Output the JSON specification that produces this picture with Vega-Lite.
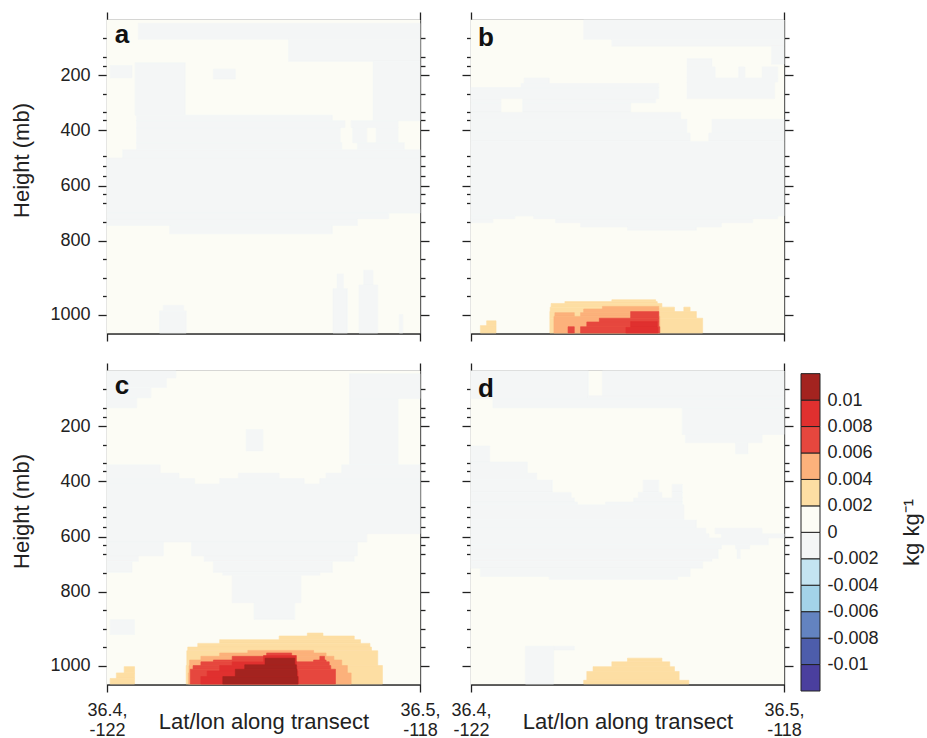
{
"$schema":"https://vega.github.io/schema/vega-lite/v6.json",
"background":"white",
"padding":{"left":10,"top":11,"right":5,"bottom":0},
"config":{"view":{"stroke":null},"font":"Liberation Sans","axis":{"domainColor":"#222","tickColor":"#222","labelColor":"#222","titleColor":"#222","titleFontWeight":"normal","grid":false,"domainWidth":1.3,"tickWidth":1.3,"labelFont":"Liberation Sans","titleFont":"Liberation Sans"}},
"datasets":{
"bar":[{"lo":-0.012,"hi":-0.01,"q":-0.011},{"lo":-0.01,"hi":-0.008,"q":-0.009},{"lo":-0.008,"hi":-0.006,"q":-0.007},{"lo":-0.006,"hi":-0.004,"q":-0.005},{"lo":-0.004,"hi":-0.002,"q":-0.003},{"lo":-0.002,"hi":0,"q":-0.001},{"lo":0,"hi":0.002,"q":0.001},{"lo":0.002,"hi":0.004,"q":0.003},{"lo":0.004,"hi":0.006,"q":0.005},{"lo":0.006,"hi":0.008,"q":0.007},{"lo":0.008,"hi":0.01,"q":0.009},{"lo":0.01,"hi":0.012,"q":0.011}],
"field":[
{"panel":"a","p0":0,"p1":1050,"f0":0,"f1":1,"q":0.001},
{"panel":"a","p0":12,"p1":70,"f0":0.1,"f1":1,"q":-0.001},
{"panel":"a","p0":70,"p1":150,"f0":0.58,"f1":1,"q":-0.001},
{"panel":"a","p0":150,"p1":365,"f0":0.85,"f1":1,"q":-0.001},
{"panel":"a","p0":155,"p1":345,"f0":0.09,"f1":0.25,"q":-0.001},
{"panel":"a","p0":165,"p1":210,"f0":0.01,"f1":0.08,"q":-0.001},
{"panel":"a","p0":178,"p1":214,"f0":0.34,"f1":0.41,"q":-0.001},
{"panel":"a","p0":345,"p1":365,"f0":0.094,"f1":0.72,"q":-0.001},
{"panel":"a","p0":365,"p1":390,"f0":0.094,"f1":0.76,"q":-0.001},
{"panel":"a","p0":365,"p1":390,"f0":0.78,"f1":0.93,"q":-0.001},
{"panel":"a","p0":390,"p1":445,"f0":0.094,"f1":0.745,"q":-0.001},
{"panel":"a","p0":390,"p1":445,"f0":0.785,"f1":0.83,"q":-0.001},
{"panel":"a","p0":390,"p1":445,"f0":0.86,"f1":0.93,"q":-0.001},
{"panel":"a","p0":445,"p1":470,"f0":0.094,"f1":0.75,"q":-0.001},
{"panel":"a","p0":445,"p1":470,"f0":0.8,"f1":0.95,"q":-0.001},
{"panel":"a","p0":470,"p1":500,"f0":0.05,"f1":1,"q":-0.001},
{"panel":"a","p0":500,"p1":700,"f0":0,"f1":1,"q":-0.001},
{"panel":"a","p0":700,"p1":720,"f0":0,"f1":0.9,"q":-0.001},
{"panel":"a","p0":720,"p1":745,"f0":0,"f1":0.8,"q":-0.001},
{"panel":"a","p0":745,"p1":775,"f0":0.2,"f1":0.72,"q":-0.001},
{"panel":"a","p0":975,"p1":990,"f0":0.18,"f1":0.245,"q":-0.001},
{"panel":"a","p0":990,"p1":1050,"f0":0.168,"f1":0.253,"q":-0.001},
{"panel":"a","p0":890,"p1":930,"f0":0.735,"f1":0.755,"q":-0.001},
{"panel":"a","p0":930,"p1":1050,"f0":0.722,"f1":0.768,"q":-0.001},
{"panel":"a","p0":880,"p1":920,"f0":0.82,"f1":0.85,"q":-0.001},
{"panel":"a","p0":920,"p1":1050,"f0":0.805,"f1":0.865,"q":-0.001},
{"panel":"a","p0":1000,"p1":1050,"f0":0.934,"f1":0.945,"q":-0.001},
{"panel":"b","p0":0,"p1":1050,"f0":0,"f1":1,"q":0.001},
{"panel":"b","p0":0,"p1":70,"f0":0.36,"f1":1,"q":-0.001},
{"panel":"b","p0":70,"p1":95,"f0":0.45,"f1":1,"q":-0.001},
{"panel":"b","p0":95,"p1":160,"f0":0.96,"f1":1,"q":-0.001},
{"panel":"b","p0":140,"p1":170,"f0":0.69,"f1":0.77,"q":-0.001},
{"panel":"b","p0":170,"p1":210,"f0":0.69,"f1":0.78,"q":-0.001},
{"panel":"b","p0":170,"p1":210,"f0":0.855,"f1":0.875,"q":-0.001},
{"panel":"b","p0":170,"p1":210,"f0":0.93,"f1":0.98,"q":-0.001},
{"panel":"b","p0":210,"p1":225,"f0":0.69,"f1":0.98,"q":-0.001},
{"panel":"b","p0":225,"p1":285,"f0":0.69,"f1":0.97,"q":-0.001},
{"panel":"b","p0":210,"p1":230,"f0":0.17,"f1":0.25,"q":-0.001},
{"panel":"b","p0":230,"p1":245,"f0":0.16,"f1":0.6,"q":-0.001},
{"panel":"b","p0":245,"p1":285,"f0":0,"f1":0.6,"q":-0.001},
{"panel":"b","p0":285,"p1":300,"f0":0,"f1":0.096,"q":-0.001},
{"panel":"b","p0":285,"p1":300,"f0":0.165,"f1":0.59,"q":-0.001},
{"panel":"b","p0":300,"p1":335,"f0":0,"f1":0.096,"q":-0.001},
{"panel":"b","p0":300,"p1":335,"f0":0.165,"f1":0.51,"q":-0.001},
{"panel":"b","p0":335,"p1":360,"f0":0,"f1":0.67,"q":-0.001},
{"panel":"b","p0":360,"p1":410,"f0":0,"f1":0.69,"q":-0.001},
{"panel":"b","p0":360,"p1":410,"f0":0.77,"f1":1,"q":-0.001},
{"panel":"b","p0":410,"p1":440,"f0":0,"f1":0.7,"q":-0.001},
{"panel":"b","p0":410,"p1":440,"f0":0.76,"f1":1,"q":-0.001},
{"panel":"b","p0":440,"p1":710,"f0":0,"f1":1,"q":-0.001},
{"panel":"b","p0":710,"p1":720,"f0":0,"f1":0.14,"q":-0.001},
{"panel":"b","p0":710,"p1":720,"f0":0.2,"f1":0.98,"q":-0.001},
{"panel":"b","p0":720,"p1":735,"f0":0,"f1":0.07,"q":-0.001},
{"panel":"b","p0":720,"p1":735,"f0":0.27,"f1":0.9,"q":-0.001},
{"panel":"b","p0":735,"p1":750,"f0":0.35,"f1":0.8,"q":-0.001},
{"panel":"b","p0":750,"p1":762,"f0":0.5,"f1":0.72,"q":-0.001},
{"panel":"b","p0":960,"p1":965,"f0":0.45,"f1":0.59,"q":0.003},
{"panel":"b","p0":965,"p1":970,"f0":0.3,"f1":0.595,"q":0.003},
{"panel":"b","p0":970,"p1":980,"f0":0.256,"f1":0.61,"q":0.003},
{"panel":"b","p0":980,"p1":992,"f0":0.253,"f1":0.65,"q":0.003},
{"panel":"b","p0":980,"p1":992,"f0":0.68,"f1":0.7,"q":0.003},
{"panel":"b","p0":992,"p1":1010,"f0":0.252,"f1":0.72,"q":0.003},
{"panel":"b","p0":1010,"p1":1050,"f0":0.252,"f1":0.74,"q":0.003},
{"panel":"b","p0":1017,"p1":1030,"f0":0.05,"f1":0.08,"q":0.003},
{"panel":"b","p0":1030,"p1":1050,"f0":0.03,"f1":0.08,"q":0.003},
{"panel":"b","p0":978,"p1":985,"f0":0.42,"f1":0.6,"q":0.005},
{"panel":"b","p0":985,"p1":995,"f0":0.36,"f1":0.6,"q":0.005},
{"panel":"b","p0":995,"p1":1005,"f0":0.268,"f1":0.33,"q":0.005},
{"panel":"b","p0":995,"p1":1005,"f0":0.35,"f1":0.6,"q":0.005},
{"panel":"b","p0":1005,"p1":1050,"f0":0.265,"f1":0.603,"q":0.005},
{"panel":"b","p0":992,"p1":1010,"f0":0.51,"f1":0.6,"q":0.007},
{"panel":"b","p0":1010,"p1":1020,"f0":0.41,"f1":0.6,"q":0.007},
{"panel":"b","p0":1020,"p1":1033,"f0":0.37,"f1":0.6,"q":0.007},
{"panel":"b","p0":1033,"p1":1050,"f0":0.31,"f1":0.33,"q":0.007},
{"panel":"b","p0":1033,"p1":1050,"f0":0.35,"f1":0.603,"q":0.007},
{"panel":"b","p0":1019,"p1":1035,"f0":0.51,"f1":0.595,"q":0.009},
{"panel":"b","p0":1035,"p1":1050,"f0":0.495,"f1":0.597,"q":0.009},
{"panel":"c","p0":0,"p1":1050,"f0":0,"f1":1,"q":0.001},
{"panel":"c","p0":0,"p1":25,"f0":0,"f1":0.22,"q":-0.001},
{"panel":"c","p0":25,"p1":60,"f0":0,"f1":0.19,"q":-0.001},
{"panel":"c","p0":60,"p1":97,"f0":0,"f1":0.14,"q":-0.001},
{"panel":"c","p0":97,"p1":133,"f0":0,"f1":0.095,"q":-0.001},
{"panel":"c","p0":10,"p1":100,"f0":0.775,"f1":1,"q":-0.001},
{"panel":"c","p0":100,"p1":340,"f0":0.775,"f1":0.93,"q":-0.001},
{"panel":"c","p0":212,"p1":290,"f0":0.445,"f1":0.498,"q":-0.001},
{"panel":"c","p0":340,"p1":370,"f0":0,"f1":0.17,"q":-0.001},
{"panel":"c","p0":340,"p1":370,"f0":0.75,"f1":1,"q":-0.001},
{"panel":"c","p0":370,"p1":390,"f0":0,"f1":0.23,"q":-0.001},
{"panel":"c","p0":370,"p1":390,"f0":0.42,"f1":0.55,"q":-0.001},
{"panel":"c","p0":370,"p1":390,"f0":0.7,"f1":1,"q":-0.001},
{"panel":"c","p0":390,"p1":410,"f0":0,"f1":0.28,"q":-0.001},
{"panel":"c","p0":390,"p1":410,"f0":0.36,"f1":0.63,"q":-0.001},
{"panel":"c","p0":390,"p1":410,"f0":0.68,"f1":1,"q":-0.001},
{"panel":"c","p0":410,"p1":590,"f0":0,"f1":1,"q":-0.001},
{"panel":"c","p0":590,"p1":620,"f0":0,"f1":0.83,"q":-0.001},
{"panel":"c","p0":620,"p1":670,"f0":0,"f1":0.18,"q":-0.001},
{"panel":"c","p0":620,"p1":670,"f0":0.27,"f1":0.8,"q":-0.001},
{"panel":"c","p0":670,"p1":690,"f0":0,"f1":0.1,"q":-0.001},
{"panel":"c","p0":670,"p1":690,"f0":0.31,"f1":0.79,"q":-0.001},
{"panel":"c","p0":690,"p1":730,"f0":0,"f1":0.08,"q":-0.001},
{"panel":"c","p0":690,"p1":730,"f0":0.34,"f1":0.72,"q":-0.001},
{"panel":"c","p0":730,"p1":740,"f0":0.37,"f1":0.68,"q":-0.001},
{"panel":"c","p0":740,"p1":830,"f0":0.4,"f1":0.62,"q":-0.001},
{"panel":"c","p0":830,"p1":875,"f0":0.47,"f1":0.6,"q":-0.001},
{"panel":"c","p0":876,"p1":916,"f0":0.01,"f1":0.088,"q":-0.001},
{"panel":"c","p0":912,"p1":920,"f0":0.64,"f1":0.69,"q":0.003},
{"panel":"c","p0":920,"p1":930,"f0":0.55,"f1":0.79,"q":0.003},
{"panel":"c","p0":930,"p1":940,"f0":0.36,"f1":0.81,"q":0.003},
{"panel":"c","p0":940,"p1":950,"f0":0.29,"f1":0.84,"q":0.003},
{"panel":"c","p0":950,"p1":960,"f0":0.258,"f1":0.845,"q":0.003},
{"panel":"c","p0":960,"p1":1000,"f0":0.255,"f1":0.865,"q":0.003},
{"panel":"c","p0":1000,"p1":1050,"f0":0.253,"f1":0.88,"q":0.003},
{"panel":"c","p0":1003,"p1":1020,"f0":0.055,"f1":0.088,"q":0.003},
{"panel":"c","p0":1020,"p1":1035,"f0":0.03,"f1":0.088,"q":0.003},
{"panel":"c","p0":1035,"p1":1050,"f0":0.01,"f1":0.088,"q":0.003},
{"panel":"c","p0":959,"p1":966,"f0":0.45,"f1":0.66,"q":0.005},
{"panel":"c","p0":966,"p1":975,"f0":0.36,"f1":0.7,"q":0.005},
{"panel":"c","p0":975,"p1":985,"f0":0.3,"f1":0.725,"q":0.005},
{"panel":"c","p0":985,"p1":1000,"f0":0.264,"f1":0.75,"q":0.005},
{"panel":"c","p0":1000,"p1":1020,"f0":0.262,"f1":0.768,"q":0.005},
{"panel":"c","p0":1020,"p1":1050,"f0":0.26,"f1":0.78,"q":0.005},
{"panel":"c","p0":966,"p1":975,"f0":0.51,"f1":0.59,"q":0.007},
{"panel":"c","p0":975,"p1":985,"f0":0.4,"f1":0.6,"q":0.007},
{"panel":"c","p0":975,"p1":985,"f0":0.68,"f1":0.695,"q":0.007},
{"panel":"c","p0":985,"p1":990,"f0":0.34,"f1":0.6,"q":0.007},
{"panel":"c","p0":985,"p1":990,"f0":0.66,"f1":0.7,"q":0.007},
{"panel":"c","p0":990,"p1":1000,"f0":0.3,"f1":0.71,"q":0.007},
{"panel":"c","p0":1000,"p1":1010,"f0":0.275,"f1":0.715,"q":0.007},
{"panel":"c","p0":1010,"p1":1050,"f0":0.266,"f1":0.73,"q":0.007},
{"panel":"c","p0":973,"p1":990,"f0":0.5,"f1":0.605,"q":0.009},
{"panel":"c","p0":990,"p1":1000,"f0":0.4,"f1":0.605,"q":0.009},
{"panel":"c","p0":1000,"p1":1015,"f0":0.36,"f1":0.607,"q":0.009},
{"panel":"c","p0":1015,"p1":1030,"f0":0.32,"f1":0.61,"q":0.009},
{"panel":"c","p0":1030,"p1":1050,"f0":0.3,"f1":0.612,"q":0.009},
{"panel":"c","p0":980,"p1":998,"f0":0.505,"f1":0.6,"q":0.011},
{"panel":"c","p0":998,"p1":1010,"f0":0.44,"f1":0.605,"q":0.011},
{"panel":"c","p0":1010,"p1":1030,"f0":0.41,"f1":0.607,"q":0.011},
{"panel":"c","p0":1030,"p1":1050,"f0":0.37,"f1":0.61,"q":0.011},
{"panel":"d","p0":0,"p1":1050,"f0":0,"f1":1,"q":0.001},
{"panel":"d","p0":0,"p1":100,"f0":0,"f1":0.375,"q":-0.001},
{"panel":"d","p0":0,"p1":90,"f0":0.42,"f1":1,"q":-0.001},
{"panel":"d","p0":90,"p1":100,"f0":0.375,"f1":1,"q":-0.001},
{"panel":"d","p0":100,"p1":133,"f0":0.07,"f1":1,"q":-0.001},
{"panel":"d","p0":133,"p1":230,"f0":0.675,"f1":1,"q":-0.001},
{"panel":"d","p0":230,"p1":260,"f0":0.685,"f1":0.93,"q":-0.001},
{"panel":"d","p0":260,"p1":300,"f0":0.845,"f1":0.885,"q":-0.001},
{"panel":"d","p0":272,"p1":330,"f0":0,"f1":0.06,"q":-0.001},
{"panel":"d","p0":330,"p1":370,"f0":0,"f1":0.18,"q":-0.001},
{"panel":"d","p0":370,"p1":395,"f0":0,"f1":0.21,"q":-0.001},
{"panel":"d","p0":395,"p1":440,"f0":0,"f1":0.26,"q":-0.001},
{"panel":"d","p0":395,"p1":440,"f0":0.55,"f1":0.6,"q":-0.001},
{"panel":"d","p0":411,"p1":440,"f0":0.643,"f1":0.675,"q":-0.001},
{"panel":"d","p0":440,"p1":460,"f0":0,"f1":0.32,"q":-0.001},
{"panel":"d","p0":440,"p1":460,"f0":0.535,"f1":0.61,"q":-0.001},
{"panel":"d","p0":440,"p1":460,"f0":0.643,"f1":0.675,"q":-0.001},
{"panel":"d","p0":460,"p1":475,"f0":0,"f1":0.33,"q":-0.001},
{"panel":"d","p0":460,"p1":475,"f0":0.52,"f1":0.675,"q":-0.001},
{"panel":"d","p0":475,"p1":485,"f0":0,"f1":0.34,"q":-0.001},
{"panel":"d","p0":475,"p1":485,"f0":0.43,"f1":0.675,"q":-0.001},
{"panel":"d","p0":485,"p1":540,"f0":0,"f1":0.68,"q":-0.001},
{"panel":"d","p0":540,"p1":570,"f0":0,"f1":0.72,"q":-0.001},
{"panel":"d","p0":570,"p1":590,"f0":0,"f1":0.75,"q":-0.001},
{"panel":"d","p0":570,"p1":590,"f0":0.78,"f1":0.93,"q":-0.001},
{"panel":"d","p0":590,"p1":605,"f0":0,"f1":0.76,"q":-0.001},
{"panel":"d","p0":590,"p1":605,"f0":0.8,"f1":1,"q":-0.001},
{"panel":"d","p0":605,"p1":630,"f0":0,"f1":0.95,"q":-0.001},
{"panel":"d","p0":630,"p1":645,"f0":0,"f1":0.8,"q":-0.001},
{"panel":"d","p0":630,"p1":645,"f0":0.845,"f1":0.89,"q":-0.001},
{"panel":"d","p0":645,"p1":680,"f0":0,"f1":0.79,"q":-0.001},
{"panel":"d","p0":645,"p1":680,"f0":0.85,"f1":0.86,"q":-0.001},
{"panel":"d","p0":680,"p1":690,"f0":0,"f1":0.77,"q":-0.001},
{"panel":"d","p0":690,"p1":715,"f0":0,"f1":0.74,"q":-0.001},
{"panel":"d","p0":715,"p1":745,"f0":0.03,"f1":0.7,"q":-0.001},
{"panel":"d","p0":745,"p1":756,"f0":0.25,"f1":0.66,"q":-0.001},
{"panel":"d","p0":948,"p1":1050,"f0":0.174,"f1":0.264,"q":-0.001},
{"panel":"d","p0":948,"p1":958,"f0":0.264,"f1":0.33,"q":-0.001},
{"panel":"d","p0":980,"p1":990,"f0":0.5,"f1":0.61,"q":0.003},
{"panel":"d","p0":990,"p1":1003,"f0":0.45,"f1":0.635,"q":0.003},
{"panel":"d","p0":1003,"p1":1016,"f0":0.39,"f1":0.65,"q":0.003},
{"panel":"d","p0":1016,"p1":1040,"f0":0.37,"f1":0.665,"q":0.003},
{"panel":"d","p0":1040,"p1":1050,"f0":0.36,"f1":0.696,"q":0.003}
]},
"spacing":20,
"vconcat":[
{"hconcat":[
{"width":313,"height":313,"layer":[
{"data":{"name":"field"},"transform":[{"filter":"datum.panel === 'a'"}],"mark":{"type":"rect","strokeWidth":0.6},"encoding":{
"x":{"field":"f0","type":"quantitative","scale":{"domain":[0,1],"nice":false,"zero":false},"axis":{"orient":"bottom","values":[0,1],"tickSize":8,"labels":false,"title":null,"domainWidth":2.4}},
"x2":{"field":"f1"},
"y":{"field":"p0","type":"quantitative","scale":{"domain":[0,800,1050],"range":[0,220.7,313],"nice":false,"zero":false},"axis":{"orient":"left","values":[65,134,168,200,267,334,362,400,494,531,567,600,631,664,734,800,850,900,950,1000],"tickSize":{"condition":{"test":"indexof([200,400,600,800,1000], datum.value) >= 0","value":9},"value":4.5},"labelExpr":"indexof([200,400,600,800,1000], datum.value) >= 0 ? '' + datum.value : ''","labelFontSize":18,"labelPadding":8,"labelOverlap":false,"title":"Height (mb)","titleFontSize":22,"titleY":140,"titlePadding":16}},
"y2":{"field":"p1"},
"fill":{"field":"q","type":"quantitative","scale":{"type":"threshold","domain":[-0.01,-0.008,-0.006,-0.004,-0.002,0,0.002,0.004,0.006,0.008,0.01],"range":["#4a3f9e","#4d5dab","#6383c0","#a3d3e8","#c4e4f1","#f4f6f6","#fcfcf5","#fddea3","#fcb17b","#e6473e","#e0302f","#a3231f"]},"legend":null},
"stroke":{"field":"q","type":"quantitative","scale":{"type":"threshold","domain":[-0.01,-0.008,-0.006,-0.004,-0.002,0,0.002,0.004,0.006,0.008,0.01],"range":["#4a3f9e","#4d5dab","#6383c0","#a3d3e8","#c4e4f1","#f4f6f6","#fcfcf5","#fddea3","#fcb17b","#e6473e","#e0302f","#a3231f"]},"legend":null}}},
{"data":{"name":"field"},"transform":[{"filter":"datum.panel === 'a'"}],"mark":{"type":"point","opacity":0},"encoding":{
"x":{"field":"f0","type":"quantitative","scale":{"domain":[0,1],"nice":false,"zero":false},"axis":{"orient":"top","values":[0,1],"tickSize":8,"labels":false,"title":null}},
"y":{"field":"p0","type":"quantitative","scale":{"domain":[0,800,1050],"range":[0,220.7,313],"nice":false,"zero":false},"axis":{"orient":"right","values":[65,134,168,200,267,334,362,400,494,531,567,600,631,664,734,800,850,900,950,1000],"tickSize":{"condition":{"test":"indexof([200,400,600,800,1000], datum.value) >= 0","value":9},"value":5},"labels":false,"title":null}}}},
{"data":{"values":[{"label":"a"}]},"mark":{"type":"text","fontSize":26,"fontWeight":"bold","align":"left","baseline":"alphabetic","color":"#111"},"encoding":{"text":{"field":"label"},
"x":{"datum":0.025,"type":"quantitative","scale":{"domain":[0,1],"nice":false,"zero":false},"axis":null},
"y":{"datum":84,"type":"quantitative","scale":{"domain":[0,800,1050],"range":[0,220.7,313],"nice":false,"zero":false},"axis":null}}}
],"resolve":{"axis":{"x":"independent","y":"independent"}}},
{"width":313,"height":313,"layer":[
{"data":{"name":"field"},"transform":[{"filter":"datum.panel === 'b'"}],"mark":{"type":"rect","strokeWidth":0.6},"encoding":{
"x":{"field":"f0","type":"quantitative","scale":{"domain":[0,1],"nice":false,"zero":false},"axis":{"orient":"bottom","values":[0,1],"tickSize":8,"labels":false,"title":null,"domainWidth":2.4}},
"x2":{"field":"f1"},
"y":{"field":"p0","type":"quantitative","scale":{"domain":[0,800,1050],"range":[0,220.7,313],"nice":false,"zero":false},"axis":{"orient":"left","values":[65,134,168,200,267,334,362,400,494,531,567,600,631,664,734,800,850,900,950,1000],"tickSize":{"condition":{"test":"indexof([200,400,600,800,1000], datum.value) >= 0","value":9},"value":4.5},"labels":false,"title":null}},
"y2":{"field":"p1"},
"fill":{"field":"q","type":"quantitative","scale":{"type":"threshold","domain":[-0.01,-0.008,-0.006,-0.004,-0.002,0,0.002,0.004,0.006,0.008,0.01],"range":["#4a3f9e","#4d5dab","#6383c0","#a3d3e8","#c4e4f1","#f4f6f6","#fcfcf5","#fddea3","#fcb17b","#e6473e","#e0302f","#a3231f"]},"legend":null},
"stroke":{"field":"q","type":"quantitative","scale":{"type":"threshold","domain":[-0.01,-0.008,-0.006,-0.004,-0.002,0,0.002,0.004,0.006,0.008,0.01],"range":["#4a3f9e","#4d5dab","#6383c0","#a3d3e8","#c4e4f1","#f4f6f6","#fcfcf5","#fddea3","#fcb17b","#e6473e","#e0302f","#a3231f"]},"legend":null}}},
{"data":{"name":"field"},"transform":[{"filter":"datum.panel === 'b'"}],"mark":{"type":"point","opacity":0},"encoding":{
"x":{"field":"f0","type":"quantitative","scale":{"domain":[0,1],"nice":false,"zero":false},"axis":{"orient":"top","values":[0,1],"tickSize":8,"labels":false,"title":null}},
"y":{"field":"p0","type":"quantitative","scale":{"domain":[0,800,1050],"range":[0,220.7,313],"nice":false,"zero":false},"axis":{"orient":"right","values":[65,134,168,200,267,334,362,400,494,531,567,600,631,664,734,800,850,900,950,1000],"tickSize":{"condition":{"test":"indexof([200,400,600,800,1000], datum.value) >= 0","value":9},"value":5},"labels":false,"title":null}}}},
{"data":{"values":[{"label":"b"}]},"mark":{"type":"text","fontSize":26,"fontWeight":"bold","align":"left","baseline":"alphabetic","color":"#111"},"encoding":{"text":{"field":"label"},
"x":{"datum":0.022,"type":"quantitative","scale":{"domain":[0,1],"nice":false,"zero":false},"axis":null},
"y":{"datum":96,"type":"quantitative","scale":{"domain":[0,800,1050],"range":[0,220.7,313],"nice":false,"zero":false},"axis":null}}}
],"resolve":{"axis":{"x":"independent","y":"independent"}}}
],"spacing":31},
{"hconcat":[
{"width":313,"height":313,"layer":[
{"data":{"name":"field"},"transform":[{"filter":"datum.panel === 'c'"}],"mark":{"type":"rect","strokeWidth":0.6},"encoding":{
"x":{"field":"f0","type":"quantitative","scale":{"domain":[0,1],"nice":false,"zero":false},"axis":{"orient":"bottom","values":[0,1],"tickSize":8,"labelExpr":"datum.value == 0 ? ['36.4,', '-122'] : ['36.5,', '-118']","labelFontSize":18,"labelLineHeight":20,"labelPadding":9,"labelAlign":"center","labelBaseline":"top","labelFlush":false,"labelOverlap":false,"labelBound":false,"title":"Lat/lon along transect","titleFontSize":22,"titleY":44,"titleBaseline":"alphabetic","domainWidth":2.4}},
"x2":{"field":"f1"},
"y":{"field":"p0","type":"quantitative","scale":{"domain":[0,800,1050],"range":[0,220.7,313],"nice":false,"zero":false},"axis":{"orient":"left","values":[65,134,168,200,267,334,362,400,494,531,567,600,631,664,734,800,850,900,950,1000],"tickSize":{"condition":{"test":"indexof([200,400,600,800,1000], datum.value) >= 0","value":9},"value":4.5},"labelExpr":"indexof([200,400,600,800,1000], datum.value) >= 0 ? '' + datum.value : ''","labelFontSize":18,"labelPadding":8,"labelOverlap":false,"title":"Height (mb)","titleFontSize":22,"titleY":140,"titlePadding":16}},
"y2":{"field":"p1"},
"fill":{"field":"q","type":"quantitative","scale":{"type":"threshold","domain":[-0.01,-0.008,-0.006,-0.004,-0.002,0,0.002,0.004,0.006,0.008,0.01],"range":["#4a3f9e","#4d5dab","#6383c0","#a3d3e8","#c4e4f1","#f4f6f6","#fcfcf5","#fddea3","#fcb17b","#e6473e","#e0302f","#a3231f"]},"legend":null},
"stroke":{"field":"q","type":"quantitative","scale":{"type":"threshold","domain":[-0.01,-0.008,-0.006,-0.004,-0.002,0,0.002,0.004,0.006,0.008,0.01],"range":["#4a3f9e","#4d5dab","#6383c0","#a3d3e8","#c4e4f1","#f4f6f6","#fcfcf5","#fddea3","#fcb17b","#e6473e","#e0302f","#a3231f"]},"legend":null}}},
{"data":{"name":"field"},"transform":[{"filter":"datum.panel === 'c'"}],"mark":{"type":"point","opacity":0},"encoding":{
"x":{"field":"f0","type":"quantitative","scale":{"domain":[0,1],"nice":false,"zero":false},"axis":{"orient":"top","values":[0,1],"tickSize":8,"labels":false,"title":null}},
"y":{"field":"p0","type":"quantitative","scale":{"domain":[0,800,1050],"range":[0,220.7,313],"nice":false,"zero":false},"axis":{"orient":"right","values":[65,134,168,200,267,334,362,400,494,531,567,600,631,664,734,800,850,900,950,1000],"tickSize":{"condition":{"test":"indexof([200,400,600,800,1000], datum.value) >= 0","value":9},"value":5},"labels":false,"title":null}}}},
{"data":{"values":[{"label":"c"}]},"mark":{"type":"text","fontSize":26,"fontWeight":"bold","align":"left","baseline":"alphabetic","color":"#111"},"encoding":{"text":{"field":"label"},
"x":{"datum":0.025,"type":"quantitative","scale":{"domain":[0,1],"nice":false,"zero":false},"axis":null},
"y":{"datum":84,"type":"quantitative","scale":{"domain":[0,800,1050],"range":[0,220.7,313],"nice":false,"zero":false},"axis":null}}}
],"resolve":{"axis":{"x":"independent","y":"independent"}}},
{"hconcat":[
{"width":313,"height":313,"layer":[
{"data":{"name":"field"},"transform":[{"filter":"datum.panel === 'd'"}],"mark":{"type":"rect","strokeWidth":0.6},"encoding":{
"x":{"field":"f0","type":"quantitative","scale":{"domain":[0,1],"nice":false,"zero":false},"axis":{"orient":"bottom","values":[0,1],"tickSize":8,"labelExpr":"datum.value == 0 ? ['36.4,', '-122'] : ['36.5,', '-118']","labelFontSize":18,"labelLineHeight":20,"labelPadding":9,"labelAlign":"center","labelBaseline":"top","labelFlush":false,"labelOverlap":false,"labelBound":false,"title":"Lat/lon along transect","titleFontSize":22,"titleY":44,"titleBaseline":"alphabetic","domainWidth":2.4}},
"x2":{"field":"f1"},
"y":{"field":"p0","type":"quantitative","scale":{"domain":[0,800,1050],"range":[0,220.7,313],"nice":false,"zero":false},"axis":{"orient":"left","values":[65,134,168,200,267,334,362,400,494,531,567,600,631,664,734,800,850,900,950,1000],"tickSize":{"condition":{"test":"indexof([200,400,600,800,1000], datum.value) >= 0","value":9},"value":4.5},"labels":false,"title":null}},
"y2":{"field":"p1"},
"fill":{"field":"q","type":"quantitative","scale":{"type":"threshold","domain":[-0.01,-0.008,-0.006,-0.004,-0.002,0,0.002,0.004,0.006,0.008,0.01],"range":["#4a3f9e","#4d5dab","#6383c0","#a3d3e8","#c4e4f1","#f4f6f6","#fcfcf5","#fddea3","#fcb17b","#e6473e","#e0302f","#a3231f"]},"legend":null},
"stroke":{"field":"q","type":"quantitative","scale":{"type":"threshold","domain":[-0.01,-0.008,-0.006,-0.004,-0.002,0,0.002,0.004,0.006,0.008,0.01],"range":["#4a3f9e","#4d5dab","#6383c0","#a3d3e8","#c4e4f1","#f4f6f6","#fcfcf5","#fddea3","#fcb17b","#e6473e","#e0302f","#a3231f"]},"legend":null}}},
{"data":{"name":"field"},"transform":[{"filter":"datum.panel === 'd'"}],"mark":{"type":"point","opacity":0},"encoding":{
"x":{"field":"f0","type":"quantitative","scale":{"domain":[0,1],"nice":false,"zero":false},"axis":{"orient":"top","values":[0,1],"tickSize":8,"labels":false,"title":null}},
"y":{"field":"p0","type":"quantitative","scale":{"domain":[0,800,1050],"range":[0,220.7,313],"nice":false,"zero":false},"axis":{"orient":"right","values":[65,134,168,200,267,334,362,400,494,531,567,600,631,664,734,800,850,900,950,1000],"tickSize":{"condition":{"test":"indexof([200,400,600,800,1000], datum.value) >= 0","value":9},"value":5},"labels":false,"title":null}}}},
{"data":{"values":[{"label":"d"}]},"mark":{"type":"text","fontSize":26,"fontWeight":"bold","align":"left","baseline":"alphabetic","color":"#111"},"encoding":{"text":{"field":"label"},
"x":{"datum":0.022,"type":"quantitative","scale":{"domain":[0,1],"nice":false,"zero":false},"axis":null},
"y":{"datum":96,"type":"quantitative","scale":{"domain":[0,800,1050],"range":[0,220.7,313],"nice":false,"zero":false},"axis":null}}}
],"resolve":{"axis":{"x":"independent","y":"independent"}}},
{"width":19,"height":320,"data":{"name":"bar"},"mark":{"type":"rect","stroke":"#222","strokeWidth":1},"encoding":{
"y":{"field":"lo","type":"quantitative","scale":{"domain":[-0.012,0.0122],"nice":false,"zero":false},"axis":{"orient":"right","values":[-0.01,-0.008,-0.006,-0.004,-0.002,0,0.002,0.004,0.006,0.008,0.01],"labelExpr":"'' + datum.value","ticks":false,"domain":false,"labelFontSize":18,"labelPadding":7,"labelOverlap":false,"labelBaseline":"middle","title":"kg kg⁻¹","titleFontSize":22,"titleAngle":270,"titleBaseline":"top","titlePadding":23,"titleY":161}},
"y2":{"field":"hi"},
"fill":{"field":"q","type":"quantitative","scale":{"type":"threshold","domain":[-0.01,-0.008,-0.006,-0.004,-0.002,0,0.002,0.004,0.006,0.008,0.01],"range":["#4a3f9e","#4d5dab","#6383c0","#a3d3e8","#c4e4f1","#f4f6f6","#fcfcf5","#fddea3","#fcb17b","#e6473e","#e0302f","#a3231f"]},"legend":null}}}
],"spacing":17,"bounds":"flush"}
],"spacing":9}
]
}
